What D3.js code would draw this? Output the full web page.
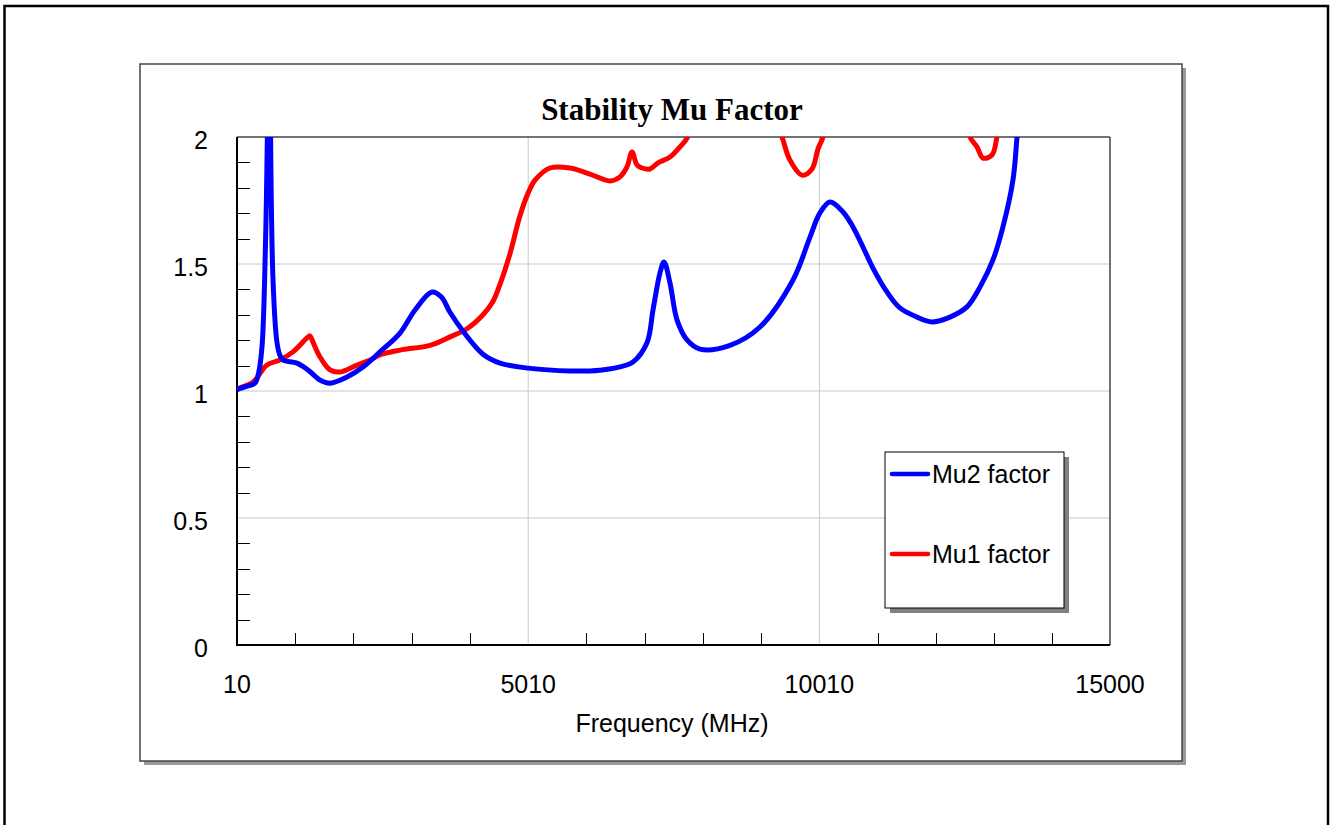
<!DOCTYPE html>
<html>
<head>
<meta charset="utf-8">
<script src="https://cdn.jsdelivr.net/npm/d3@7"></script>
<style>
  body { margin: 0; background: #fff; }
  svg { display: block; }
</style>
</head>
<body>
<svg id="chart" width="1331" height="825"></svg>
<script>
// Chart text
const chartTitle = "Stability Mu Factor";
const xAxisTitle = "Frequency (MHz)";

// Axis ticks
const xTickValues = [10, 5010, 10010, 15000];
const xTickLabels = ["10", "5010", "10010", "15000"];
const yTickValues = [0, 0.5, 1, 1.5, 2];
const yTickLabels = ["0", "0.5", "1", "1.5", "2"];

// Series names
const seriesNames = ["Mu2 factor", "Mu1 factor"];

// Mu2 factor (blue)
const mu2Freq = [10, 60, 200, 319, 380, 439, 491, 540, 560, 580, 628, 697, 748, 800, 1040, 1229, 1435, 1607,
  1899, 2173, 2465, 2809, 3067, 3358, 3520, 3667, 3890, 4234, 4526, 5010, 5728, 6243, 6586, 6809, 7050,
  7153, 7273, 7342, 7445, 7565, 7737, 7960, 8475, 8990, 9557, 9849, 10020, 10192, 10415, 10587, 10758,
  10930, 11170, 11393, 11686, 11943, 12252, 12544, 12767, 12990, 13162, 13334, 13403, 13489];
const mu2Values = [1.005, 1.01, 1.02, 1.031, 1.07, 1.173, 1.5, 2.2, 5.0, 2.2, 1.44, 1.19, 1.14, 1.122, 1.11,
  1.083, 1.043, 1.031, 1.055, 1.094, 1.154, 1.228, 1.319, 1.39, 1.37, 1.31, 1.236, 1.145, 1.11, 1.09,
  1.079, 1.082, 1.095, 1.114, 1.19, 1.319, 1.465, 1.508, 1.425, 1.28, 1.201, 1.165, 1.18, 1.252, 1.437,
  1.606, 1.701, 1.744, 1.705, 1.646, 1.567, 1.484, 1.39, 1.327, 1.291, 1.272, 1.291, 1.331, 1.409,
  1.516, 1.646, 1.831, 2.0, 2.3];

// Mu1 factor (red)
const mu1Freq = [10, 60, 285, 525, 748, 971, 1212, 1263, 1298, 1435, 1607, 1779, 2070, 2294, 2465, 2809,
  3324, 3667, 3959, 4234, 4400, 4526, 4697, 4869, 5010, 5127, 5384, 5728, 6071, 6414, 6586, 6706, 6792,
  6878, 6964, 7101, 7239, 7445, 7616, 7737, 7874, 8300, 8900, 9368, 9505, 9711, 9883, 9986, 10072,
  10200, 11000, 12400, 12596, 12716, 12819, 12973, 13059, 13200, 15000];
const mu1Values = [1.005, 1.012, 1.035, 1.102, 1.122, 1.154, 1.209, 1.217, 1.201, 1.134, 1.083, 1.075,
  1.102, 1.122, 1.142, 1.161, 1.18, 1.213, 1.245, 1.30, 1.35, 1.42, 1.54, 1.69, 1.78, 1.83, 1.878, 1.878,
  1.854, 1.827, 1.843, 1.882, 1.941, 1.89, 1.878, 1.874, 1.898, 1.921, 1.961, 1.996, 2.1, 2.3, 2.3, 2.0,
  1.909, 1.85, 1.874, 1.953, 2.0, 2.15, 2.4, 2.2, 2.0, 1.961, 1.917, 1.929, 2.0, 2.2, 2.5];

const svg = d3.select('#chart');
const sansFont = '"Liberation Sans", Arial, sans-serif';

// Outer frame (bottom edge runs off the page)
svg.append('rect')
  .attr('x', 4.5).attr('y', 6).attr('width', 1323.5).attr('height', 840)
  .attr('fill', 'none').attr('stroke', '#000').attr('stroke-width', 2.5);

// Chart panel with its shadow
svg.append('rect')
  .attr('x', 144).attr('y', 68).attr('width', 1042).attr('height', 697)
  .attr('fill', '#999');
svg.append('rect')
  .attr('x', 140).attr('y', 64).attr('width', 1042).attr('height', 697)
  .attr('fill', '#fff').attr('stroke', '#444').attr('stroke-width', 1.5);

// the margin convention
const plot = { left: 237, top: 137, right: 1110, bottom: 645 };

const xScale = d3.scaleLinear()
  .domain([10, 15000])
  .range([plot.left, plot.right]);

const yScale = d3.scaleLinear()
  .domain([0, 2])
  .range([plot.bottom, plot.top]);

// Grid lines at the labelled values
const g = svg.append('g');
g.selectAll('.hgrid').data(yTickValues.filter(v => v > 0 && v < 2))
  .enter().append('line')
  .attr('x1', plot.left).attr('x2', plot.right)
  .attr('y1', d => yScale(d)).attr('y2', d => yScale(d))
  .attr('stroke', '#c8c8c8').attr('stroke-width', 1);
g.selectAll('.vgrid').data(xTickValues.filter(v => v > 10 && v < 15000))
  .enter().append('line')
  .attr('x1', d => xScale(d)).attr('x2', d => xScale(d))
  .attr('y1', plot.top).attr('y2', plot.bottom)
  .attr('stroke', '#c8c8c8').attr('stroke-width', 1);

// Minor ticks, drawn inside the plot
const yMinor = d3.range(1, 20).map(i => i / 10).filter(v => Math.abs(v * 2 - Math.round(v * 2)) > 1e-6);
g.selectAll('.ytick').data(yMinor)
  .enter().append('line')
  .attr('x1', plot.left).attr('x2', plot.left + 13)
  .attr('y1', d => Math.round(yScale(d)) + 0.5).attr('y2', d => Math.round(yScale(d)) + 0.5)
  .attr('stroke', '#000').attr('stroke-width', 1);

const xMinor = d3.range(1010, 15000, 1000).filter(v => v !== 5010 && v !== 10010);
g.selectAll('.xtick').data(xMinor)
  .enter().append('line')
  .attr('x1', d => Math.round(xScale(d)) + 0.5).attr('x2', d => Math.round(xScale(d)) + 0.5)
  .attr('y1', plot.bottom).attr('y2', plot.bottom - 12)
  .attr('stroke', '#000').attr('stroke-width', 1);

// Plot frame: light top / right, heavy left / bottom
g.append('line')
  .attr('x1', plot.left).attr('x2', plot.right).attr('y1', plot.top).attr('y2', plot.top)
  .attr('stroke', '#444').attr('stroke-width', 1.5);
g.append('line')
  .attr('x1', plot.right).attr('x2', plot.right).attr('y1', plot.top).attr('y2', plot.bottom)
  .attr('stroke', '#444').attr('stroke-width', 1.5);

// Curves, clipped to the plot area
svg.append('clipPath').attr('id', 'plot-clip')
  .append('rect')
  .attr('x', plot.left).attr('y', plot.top)
  .attr('width', plot.right - plot.left).attr('height', plot.bottom - plot.top);

const line = d3.line()
  .x(d => xScale(d[0]))
  .y(d => yScale(d[1]))
  .curve(d3.curveCatmullRom.alpha(0.5));

const curves = svg.append('g').attr('clip-path', 'url(#plot-clip)');
curves.append('path')
  .datum(d3.zip(mu1Freq, mu1Values))
  .attr('d', line)
  .attr('fill', 'none').attr('stroke', '#ff0000').attr('stroke-width', 5)
  .attr('stroke-linejoin', 'round');
curves.append('path')
  .datum(d3.zip(mu2Freq, mu2Values))
  .attr('d', line)
  .attr('fill', 'none').attr('stroke', '#0000ff').attr('stroke-width', 5)
  .attr('stroke-linejoin', 'round');

g.append('line')
  .attr('x1', plot.left).attr('x2', plot.left).attr('y1', plot.top).attr('y2', plot.bottom + 1)
  .attr('stroke', '#000').attr('stroke-width', 2);
g.append('line')
  .attr('x1', plot.left - 1).attr('x2', plot.right).attr('y1', plot.bottom).attr('y2', plot.bottom)
  .attr('stroke', '#000').attr('stroke-width', 2);

// Tick labels
svg.selectAll('.xlabel').data(xTickValues)
  .enter().append('text')
  .attr('x', d => xScale(d)).attr('y', 693)
  .attr('text-anchor', 'middle')
  .style('font-family', sansFont).style('font-size', '25px')
  .text((d, i) => xTickLabels[i]);

svg.selectAll('.ylabel').data(yTickValues)
  .enter().append('text')
  .attr('x', 208).attr('y', d => yScale(d) + 12)
  .attr('text-anchor', 'end')
  .style('font-family', sansFont).style('font-size', '25px')
  .text((d, i) => yTickLabels[i]);

// Titles
svg.append('text')
  .attr('x', 672).attr('y', 120)
  .attr('text-anchor', 'middle')
  .style('font-family', '"Liberation Serif", "Times New Roman", serif')
  .style('font-size', '31px').style('font-weight', 'bold')
  .text(chartTitle);

svg.append('text')
  .attr('x', 672).attr('y', 732)
  .attr('text-anchor', 'middle')
  .style('font-family', sansFont).style('font-size', '25px')
  .text(xAxisTitle);

// Legend box
const legend = svg.append('g').attr('transform', 'translate(885, 452)');
legend.append('rect')
  .attr('x', 5).attr('y', 5).attr('width', 179).attr('height', 156)
  .attr('fill', '#808080');
legend.append('rect')
  .attr('x', 0).attr('y', 0).attr('width', 179).attr('height', 156)
  .attr('fill', '#fff').attr('stroke', '#000').attr('stroke-width', 1);

const legendColors = ['#0000ff', '#ff0000'];
const legendRows = legend.selectAll('.row').data(seriesNames)
  .enter().append('g')
  .attr('transform', (d, i) => `translate(0, ${22 + i * 80})`);
legendRows.append('line')
  .attr('x1', 7).attr('x2', 43).attr('y1', 0).attr('y2', 0)
  .attr('stroke', (d, i) => legendColors[i]).attr('stroke-width', 4.5)
  .attr('stroke-linecap', 'round');
legendRows.append('text')
  .attr('x', 47).attr('y', 9)
  .style('font-family', sansFont).style('font-size', '25px')
  .text(d => d);
</script>
</body>
</html>
